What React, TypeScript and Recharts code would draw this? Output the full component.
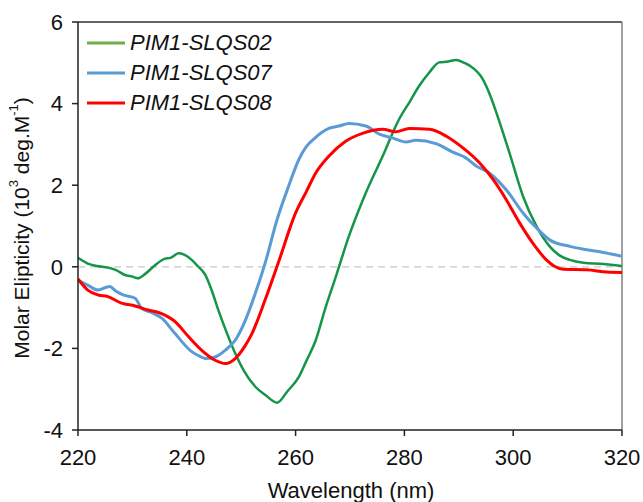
import React from "react";
import { LineChart, Line, XAxis, YAxis, ReferenceLine, Legend } from "recharts";

const wl02 = [220, 221.8, 223.5, 225.5, 227, 228.6, 230, 231, 232.3, 234, 236, 237, 238.5, 239.5, 240.9, 242, 243.4, 244.5, 245.8, 247.3, 248.9, 250.5, 252.6, 254.5, 256.6, 258.5, 260.6, 262, 263.7, 265.5, 267.4, 269.8, 272.9, 276, 279, 281, 282.7, 284.5, 286.4, 288, 289.5, 291, 292, 294.4, 296, 296.9, 299.3, 301.8, 304.3, 306.7, 308.5, 310.4, 312.9, 316.6, 318, 320];
const val02 = [0.22, 0.08, 0.02, -0.02, -0.08, -0.2, -0.24, -0.28, -0.18, 0.02, 0.2, 0.22, 0.33, 0.3, 0.17, 0.02, -0.2, -0.55, -1.06, -1.6, -2.12, -2.55, -2.94, -3.15, -3.33, -3.05, -2.7, -2.3, -1.8, -1.0, -0.24, 0.75, 1.81, 2.71, 3.61, 4.05, 4.43, 4.75, 5.01, 5.03, 5.07, 5.0, 4.93, 4.6, 4.12, 3.78, 2.8, 1.73, 0.99, 0.5, 0.28, 0.17, 0.1, 0.07, 0.05, 0.02];

const wl07 = [220, 221.8, 223.7, 225.8, 227, 228.3, 230.5, 231.7, 233.5, 235.4, 237.8, 240.9, 242.5, 243.4, 245.2, 247.1, 248.9, 250.8, 252.6, 254.4, 256.6, 258.7, 260.6, 262, 263.5, 266.1, 268, 269.8, 272.9, 275.4, 277.8, 280.3, 282.1, 285.8, 288.9, 291.3, 293.2, 295.6, 298.7, 301.8, 304.3, 306.7, 310.4, 313.5, 316.6, 320];
const val07 = [-0.33, -0.45, -0.57, -0.48, -0.6, -0.69, -0.77, -1.02, -1.12, -1.26, -1.63, -2.08, -2.2, -2.25, -2.21, -2.04, -1.8, -1.3, -0.65, 0.09, 1.16, 1.97, 2.63, 2.95, 3.15, 3.39, 3.45, 3.51, 3.45, 3.25, 3.16, 3.06, 3.1, 3.02, 2.81, 2.67, 2.47, 2.3, 1.89, 1.32, 0.95, 0.66, 0.5, 0.42, 0.35, 0.26];

const wl08 = [220, 221.8, 223.7, 225.5, 228, 230.5, 232.9, 234.8, 237.8, 240.3, 242.7, 245.2, 247.1, 248.9, 250.5, 252, 254.4, 256.9, 260, 262, 263.7, 266.1, 269.2, 272.3, 276, 278.4, 280.9, 284.6, 287.7, 290.7, 293.8, 296.3, 298.7, 301.2, 303.6, 306.1, 307.5, 309.2, 313.5, 317.2, 320];
const val08 = [-0.3, -0.57, -0.69, -0.73, -0.89, -0.96, -1.06, -1.12, -1.34, -1.71, -2.04, -2.29, -2.37, -2.25, -1.98, -1.63, -0.81, 0.13, 1.32, 1.85, 2.3, 2.71, 3.08, 3.27, 3.37, 3.31, 3.39, 3.37, 3.2, 2.92, 2.55, 2.14, 1.65, 1.07, 0.58, 0.17, 0.02, -0.06, -0.07, -0.13, -0.14];

const xTicks = [220, 240, 260, 280, 300, 320];
const yTicks = [-4, -2, 0, 2, 4, 6];

const seriesNames = ["PIM1-SLQS02", "PIM1-SLQS07", "PIM1-SLQS08"];
const lineColors = ["#15954a", "#5b9bd5", "#ff0000"];
const legendColors = ["#70ad47", "#5b9bd5", "#ff0000"];

const toPoints = (xs: number[], ys: number[]) => xs.map((x, i) => ({ x, y: ys[i] }));
const data02 = toPoints(wl02, val02);
const data07 = toPoints(wl07, val07);
const data08 = toPoints(wl08, val08);

const FONT = "'Liberation Sans', Arial, sans-serif";

const YLabel = (props: any) => {
  const vb = props.viewBox || {};
  const cx = 21;
  const cy = vb.y + vb.height / 2 + 2;
  return (
    <text
      x={cx}
      y={cy}
      transform={`rotate(-90, ${cx}, ${cy})`}
      textAnchor="middle"
      dominantBaseline="central"
      fontFamily={FONT}
      fontSize={21}
      fill="#111"
    >
      <tspan>Molar Elipticity (10</tspan>
      <tspan dy={-8} fontSize={13}>3</tspan>
      <tspan dy={8}> deg.M</tspan>
      <tspan dy={-8} fontSize={13}>-1</tspan>
      <tspan dy={8}>)</tspan>
    </text>
  );
};

const XLabel = (props: any) => {
  const vb = props.viewBox || {};
  return (
    <text
      x={vb.x + vb.width / 2 + 1}
      y={498}
      textAnchor="middle"
      fontFamily={FONT}
      fontSize={22}
      fill="#111"
    >
      Wavelength (nm)
    </text>
  );
};

const renderLegend = () => (
  <div style={{ fontFamily: FONT, fontStyle: "italic", fontSize: 22, color: "#111" }}>
    {seriesNames.map((n, i) => (
      <div key={n} style={{ display: "flex", alignItems: "center", height: 30 }}>
        <svg width={40} height={6} style={{ marginRight: 4 }}>
          <line x1={1} y1={3} x2={39} y2={3} stroke={legendColors[i]} strokeWidth={3} />
        </svg>
        <span>{n}</span>
      </div>
    ))}
  </div>
);

export default function App() {
  return (
    <div style={{ position: "absolute", left: 0, top: 0, width: 643, height: 502, background: "#fff" }}>
      <LineChart width={643} height={502} margin={{ top: 22, right: 21, bottom: 0, left: 0 }}>
        <XAxis
          dataKey="x"
          type="number"
          domain={[220, 320]}
          ticks={xTicks}
          allowDataOverflow
          tickSize={6}
          tickMargin={13}
          tick={{ fontFamily: FONT, fontSize: 22, fill: "#111" }}
          stroke="#222"
          strokeWidth={1.5}
          height={72}
          label={<XLabel />}
        />
        <YAxis
          dataKey="y"
          type="number"
          domain={[-4, 6]}
          ticks={yTicks}
          allowDataOverflow
          tickSize={6}
          tickMargin={9}
          tick={{ fontFamily: FONT, fontSize: 22, fill: "#111" }}
          stroke="#222"
          strokeWidth={1.5}
          width={78}
          label={<YLabel />}
        />
        <ReferenceLine y={0} stroke="#c8c8c8" strokeDasharray="7 5" strokeWidth={1.2} />
        <ReferenceLine y={6} stroke="#333" strokeWidth={1.5} />
        <ReferenceLine x={320} stroke="#808080" strokeWidth={1.5} />
        <Legend
          layout="horizontal"
          verticalAlign="middle"
          align="center"
          content={renderLegend}
          wrapperStyle={{ position: "absolute", top: 28, left: 86, width: "auto", height: "auto" }}
        />
        <Line data={data02} dataKey="y" name={seriesNames[0]} type="monotone" stroke={lineColors[0]} strokeWidth={2.5} dot={false} isAnimationActive={false} />
        <Line data={data07} dataKey="y" name={seriesNames[1]} type="monotone" stroke={lineColors[1]} strokeWidth={3} dot={false} isAnimationActive={false} />
        <Line data={data08} dataKey="y" name={seriesNames[2]} type="monotone" stroke={lineColors[2]} strokeWidth={3} dot={false} isAnimationActive={false} />
      </LineChart>
    </div>
  );
}
